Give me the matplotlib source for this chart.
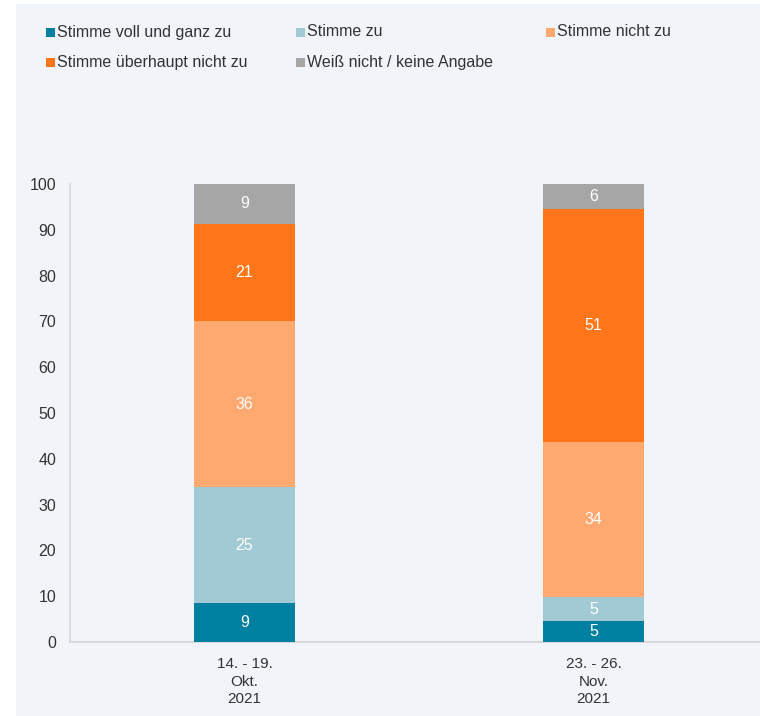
import numpy as np
import matplotlib.pyplot as plt
from matplotlib.patches import Rectangle

plt.rcParams['font.family'] = ['Liberation Sans', 'DejaVu Sans']

# Daten
kategorien = ['14. - 19.\nOkt.\n2021', '23. - 26.\nNov.\n2021']
serien = ['Stimme voll und ganz zu', 'Stimme zu', 'Stimme nicht zu',
          'Stimme überhaupt nicht zu', 'Weiß nicht / keine Angabe']
farben = ['#0080a1', '#a2cad4', '#ffa971', '#ff7519', '#a6a6a6']
werte_okt = [8.5, 25.3, 36.3, 21.2, 8.7]
werte_nov = [4.6, 5.2, 33.9, 50.8, 5.5]
labels_okt = ['9', '25', '36', '21', '9']
labels_nov = ['5', '5', '34', '51', '6']

bg = '#f1f5f9'
fig = plt.figure(figsize=(7.6, 7.16), dpi=100)
fig.patches.append(Rectangle((16 / 760, 0), 1, 1 - 4 / 716, transform=fig.transFigure,
                             facecolor=bg, edgecolor='none', zorder=-10))

ax = fig.add_axes([70 / 760, 1 - 642 / 716, 698 / 760, 458 / 716])
ax.set_facecolor(bg)

x = np.arange(len(kategorien))
werte = np.array([werte_okt, werte_nov])
labels = [labels_okt, labels_nov]
bottom = np.zeros(len(kategorien))
for i, name in enumerate(serien):
    h = werte[:, i]
    bars = ax.bar(x, h, 0.287, bottom=bottom, color=farben[i], edgecolor='none', zorder=3)
    for j, b in enumerate(bars):
        ax.text(b.get_x() + b.get_width() / 2, bottom[j] + h[j] / 2, labels[j][i],
                ha='center', va='center', color='white', fontsize=11.5, zorder=4)
    bottom += h

ax.set_xlim(-0.5, 1.5)
ax.set_ylim(0, 100)
ax.set_yticks(range(0, 101, 10))
ax.set_xticks(x)
ax.set_xticklabels(kategorien, fontsize=11, color='#333333', linespacing=1.3)
ax.tick_params(axis='y', length=0, labelsize=11.5, labelcolor='#333333', pad=10)
ax.tick_params(axis='x', length=0, pad=11)
for s in ['top', 'right']:
    ax.spines[s].set_visible(False)
ax.spines['left'].set_color('#d9d9d9')
ax.spines['bottom'].set_color('#d9d9d9')
ax.spines['left'].set_linewidth(1.2)
ax.spines['bottom'].set_linewidth(1.5)

# Legende
pos = [(46, 32), (296, 32), (546, 32), (46, 62), (296, 62)]
for (px, py), name, c in zip(pos, serien, farben):
    fig.patches.append(Rectangle((px / 760, 1 - (py + 5) / 716), 9 / 760, 9 / 716,
                                 transform=fig.transFigure, facecolor=c, edgecolor='none'))
    fig.text((px + 11) / 760, 1 - py / 716, name, fontsize=11.5, color='#333333',
             ha='left', va='center')

fig.savefig('out.png', dpi=100, facecolor='white')
